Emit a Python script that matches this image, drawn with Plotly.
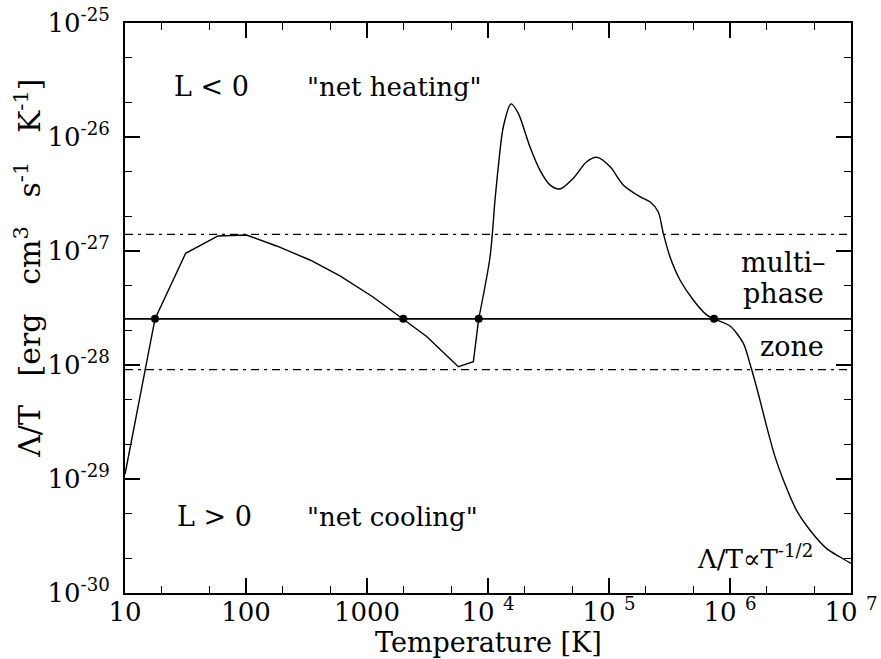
import plotly.graph_objects as go

# Cold branch (piecewise straight in the picture)
T_cold = [10, 17.7, 31.7, 58.7, 101, 179, 338, 598, 1122, 1995, 3112, 5690, 7570, 8380]
LT_cold = [1.1e-29, 2.54e-28, 9.55e-28, 1.355e-27, 1.38e-27, 1.107e-27, 8.34e-28, 6.04e-28,
           3.95e-28, 2.54e-28, 1.78e-28, 9.66e-29, 1.07e-28, 2.54e-28]
# Hot branch (smooth in the picture)
T_hot = [8380, 10400, 11430, 12170, 13390, 15500, 17800, 22200, 26900, 32500, 39300,
         50700, 65400, 80000, 101900, 131000, 180000, 218000, 255000, 281000, 319000,
         386000, 497000, 641000, 738000, 1.0e6, 1.29e6, 1.46e6, 1.71e6, 2.01e6, 2.35e6,
         2.76e6, 3.55e6, 4.57e6, 6.3e6, 8.1e6, 1.0e7]
LT_hot = [2.54e-28, 8.9e-28, 2.8e-27, 5.5e-27, 1.23e-26, 1.95e-26, 1.61e-26, 8.2e-27,
          5.1e-27, 3.8e-27, 3.5e-27, 4.35e-27, 6.07e-27, 6.63e-27, 5.5e-27, 3.8e-27,
          3.0e-27, 2.7e-27, 2.21e-27, 1.43e-27, 8.9e-28, 5.57e-28, 3.72e-28, 2.75e-28,
          2.54e-28, 2.2e-28, 1.55e-28, 1.03e-28, 5.65e-29, 2.88e-29, 1.58e-29, 9.8e-30,
          5.3e-30, 3.57e-30, 2.45e-30, 2.07e-30, 1.82e-30]

# Horizontal levels
level_eq = 2.54e-28
level_hi = 1.4e-27
level_lo = 9.1e-29
x_span = [10, 1e7]

# Equilibrium points
T_eq = [17.7, 1995, 8380, 738000]

xtickvals = [10, 100, 1000, 1e4, 1e5, 1e6, 1e7]
xticktext = ["10", "100", "1000", "10 <sup>4</sup>", "10 <sup>5</sup>",
             "10 <sup>6</sup>", "10 <sup>7</sup>"]
ytickvals = [1e-30, 1e-29, 1e-28, 1e-27, 1e-26, 1e-25]
yticktext = ["10<sup>-30</sup>", "10<sup>-29</sup>", "10<sup>-28</sup>",
             "10<sup>-27</sup>", "10<sup>-26</sup>", "10<sup>-25</sup>"]

FONT = "DejaVu Serif"
fig = go.Figure()
fig.add_trace(go.Scatter(x=x_span, y=[level_hi, level_hi], mode="lines",
                         line=dict(color="black", width=1.3, dash="8px,5px,3px,5px")))
fig.add_trace(go.Scatter(x=x_span, y=[level_lo, level_lo], mode="lines",
                         line=dict(color="black", width=1.3, dash="8px,5px,3px,5px")))
fig.add_trace(go.Scatter(x=x_span, y=[level_eq, level_eq], mode="lines",
                         line=dict(color="black", width=1.6)))
fig.add_trace(go.Scatter(x=T_cold, y=LT_cold, mode="lines",
                         line=dict(color="black", width=1.4)))
fig.add_trace(go.Scatter(x=T_hot, y=LT_hot, mode="lines",
                         line=dict(color="black", width=1.4, shape="spline", smoothing=0.8)))
fig.add_trace(go.Scatter(x=T_eq, y=[level_eq] * len(T_eq), mode="markers",
                         marker=dict(color="black", size=8)))

axis_common = dict(type="log", showgrid=False, zeroline=False, showline=True,
                   linecolor="black", linewidth=2, mirror="ticks", ticks="inside",
                   tickcolor="black", tickwidth=1.5, automargin=False,
                   minor=dict(ticks="inside", ticklen=7, tickcolor="black", tickwidth=1.2,
                              showgrid=False))

fig.update_xaxes(range=[1, 7], tickvals=xtickvals, ticktext=xticktext, ticklen=15,
                 ticklabelstandoff=-5,
                 tickfont=dict(family=FONT, size=26, color="black"),
                 **axis_common)
fig.update_yaxes(range=[-30, -25], tickvals=ytickvals, ticktext=yticktext, ticklen=15,
                 ticklabelstandoff=8,
                 tickfont=dict(family=FONT, size=26, color="black"),
                 **axis_common)

NB = "\u00a0"
big = dict(family=FONT, size=27, color="black")
mid = dict(family=FONT, size=26, color="black")
anns = [
    dict(x=1.39, y=-25.56, text="L" + NB + "<" + NB + "0", xanchor="left", font=big),
    dict(x=2.49, y=-25.56, text="\"net heating\"", xanchor="left", font=mid),
    dict(x=1.41, y=-29.33, text="L" + NB + ">" + NB + "0", xanchor="left", font=big),
    dict(x=2.49, y=-29.33, text="\"net cooling\"", xanchor="left", font=mid),
    dict(x=6.81, y=-27.105, text="multi\u2013", xanchor="right", font=big),
    dict(x=6.795, y=-27.37, text="phase", xanchor="right", font=big),
    dict(x=6.795, y=-27.84, text="zone", xanchor="right", font=big),
    dict(x=6.70, y=-29.684, text="\u039b/T\u221dT<sup>-1/2</sup>", xanchor="right", font=mid),
]
for a in anns:
    fig.add_annotation(xref="x", yref="y", showarrow=False, yanchor="middle", **a)

# axis titles
G = NB * 3
fig.add_annotation(xref="paper", yref="paper", x=-0.134, y=0.57, showarrow=False,
                   textangle=-90, xanchor="center", yanchor="middle",
                   text="\u039b/T" + G + "[erg" + G + "cm<sup>3</sup>" + G +
                        "s<sup>-1</sup>" + G + "K<sup>-1</sup>]",
                   font=dict(family=FONT, size=30, color="black"))
fig.add_annotation(xref="paper", yref="paper", x=0.5, y=-0.086, showarrow=False,
                   xanchor="center", yanchor="middle", text="Temperature [K]",
                   font=dict(family=FONT, size=27, color="black"))

fig.update_layout(width=881, height=659, showlegend=False,
                  margin=dict(l=125, r=30, t=23, b=66),
                  plot_bgcolor="white", paper_bgcolor="white",
                  font=dict(family=FONT, color="black"))
fig.write_html("out.html")
